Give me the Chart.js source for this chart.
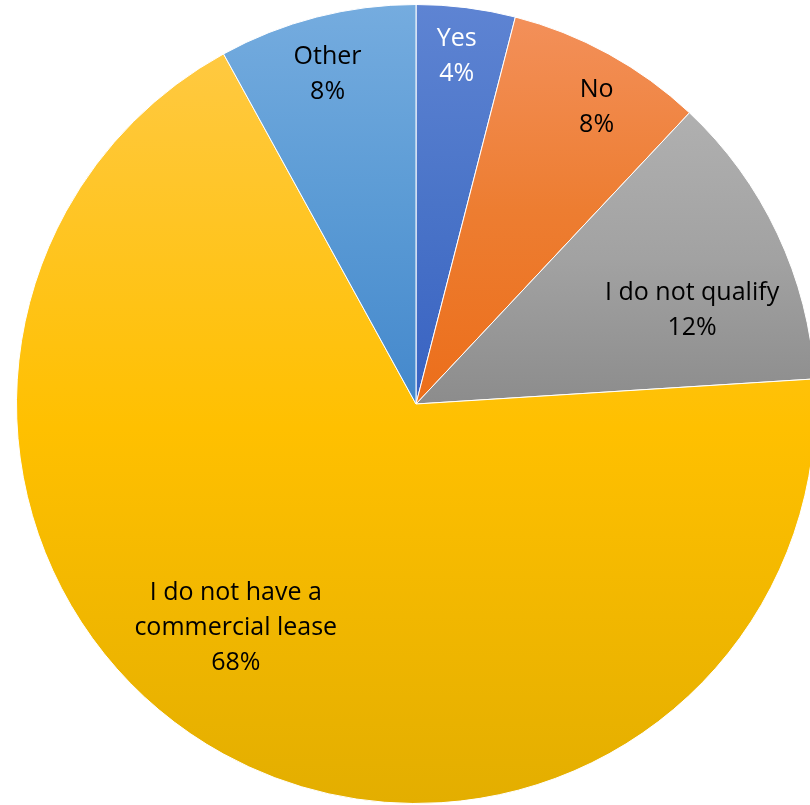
<!DOCTYPE html>
<html>
<head>
<meta charset="utf-8">
<script src="https://cdn.jsdelivr.net/npm/chart.js@4"></script>
<style>
html,body{margin:0;padding:0;background:#fff;overflow:hidden;width:810px;height:805px;}
#wrap{position:absolute;left:16px;top:4px;width:800px;height:800px;}
</style>
</head>
<body>
<div id="wrap"><canvas id="pie" width="800" height="800"></canvas></div>
<script>
// data
const categories=["Yes","No","I do not qualify","I do not have a commercial lease","Other"];
const values=[4,8,12,68,8];

// gradient colours per slice: top / middle / bottom
const topColors=["#5e84d3","#f3905a","#b0b0b0","#ffc941","#75acdf"];
const midColors=["#4a74c8","#ed7d31","#a2a2a2","#ffc000","#5b9bd5"];
const bottomColors=["#3862c2","#ec6e1a","#8c8c8c","#e3ae00","#4488cc"];
const textColors=["#fff","#000","#000","#000","#000"];
// label placement: fraction of radius, angle shift (deg)
const labelRadius=[0.875,0.87,0.73,0.72,0.855];
const labelShift=[-0.5,2.5,6.4,10,-0.6];

const total=values.reduce((a,b)=>a+b,0);

function sliceColor(ctx){
const i=ctx.dataIndex;
const chart=ctx.chart;
const area=chart.chartArea;
if(!area||i===undefined) return midColors[i]||"#ccc";
const cx=(area.left+area.right)/2, cy=(area.top+area.bottom)/2;
const r=Math.min(area.right-area.left,area.bottom-area.top)/2;
let start=0;
for(let k=0;k<i;k++) start+=values[k];
const a0=-Math.PI/2+start/total*2*Math.PI;
const a1=a0+values[i]/total*2*Math.PI;
let minY=cy,maxY=cy;
for(let s=0;s<=60;s++){
const a=a0+(a1-a0)*s/60;
const y=cy+r*Math.sin(a);
if(y<minY)minY=y;
if(y>maxY)maxY=y;
}
const g=chart.ctx.createLinearGradient(0,minY,0,maxY);
g.addColorStop(0,topColors[i]);
g.addColorStop(0.5,midColors[i]);
g.addColorStop(1,bottomColors[i]);
return g;
}

// LABELS
const pieLabels={
id:"pieLabels",
afterDatasetsDraw(chart){
const c=chart.ctx;
const arcs=chart.getDatasetMeta(0).data;
c.save();
c.font="25px 'Open Sans', Lato, sans-serif";
c.textAlign="center";
c.textBaseline="middle";
arcs.forEach((arc,i)=>{
const mid=(arc.startAngle+arc.endAngle)/2+labelShift[i]*Math.PI/180;
const rr=arc.outerRadius*labelRadius[i];
const x=arc.x+Math.cos(mid)*rr;
const y=arc.y+Math.sin(mid)*rr;
// wrap text
const words=categories[i].split(" ");
const lines=[];let line="";
words.forEach(w=>{
const t=line?line+" "+w:w;
if(c.measureText(t).width>250&&line){lines.push(line);line=w;}else line=t;
});
lines.push(line);
lines.push(Math.round(values[i]/total*100)+"%");
const lh=35;
const y0=y-(lines.length-1)*lh/2;
c.fillStyle=textColors[i];
lines.forEach((l,k)=>c.fillText(l,x,y0+k*lh));
});
c.restore();
}
};

new Chart(document.getElementById("pie"),{
type:"pie",
data:{
labels:categories,
datasets:[{
data:values,
backgroundColor:sliceColor,
borderColor:"#fff",
borderWidth:1
}]
},
options:{
responsive:false,
animation:false,
layout:{padding:0},
plugins:{legend:{display:false},tooltip:{enabled:false}}
},
plugins:[pieLabels]
});
</script>
</body>
</html>
